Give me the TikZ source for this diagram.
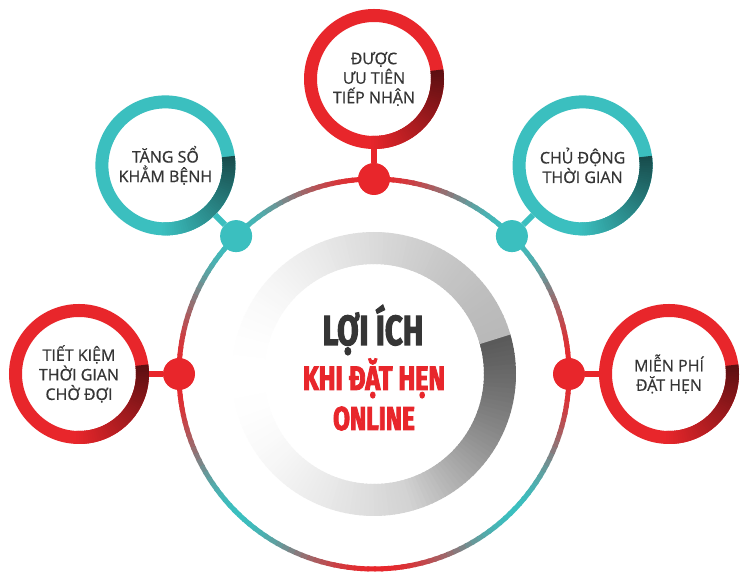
\documentclass[tikz,border=0pt]{standalone}
\usepackage{fontspec}
\setmainfont{Open Sans}
\newfontfamily\satfont{Open Sans}[FakeBold=0.7]
\newfontfamily\headfont{Fira Sans}[FakeStretch=0.74, FakeBold=2.5]
\usetikzlibrary{positioning}

\definecolor{ringred}{HTML}{E8262B}
\definecolor{ringteal}{HTML}{3BBFBF}
\definecolor{textgray}{HTML}{353535}

% shaded fold on the lower right of a satellite ring
\newcommand{\foldring}[2]{%
	\foreach \a in {0,2,...,98} {
		\pgfmathsetmacro\s{8-\a}
		\pgfmathsetmacro\e{\s-2.6}
		\pgfmathsetmacro\k{40+0.6*\a}
		\draw[line width=13, #2!\k!black] ([shift={(\s:63.5)}]#1.center) arc[start angle=\s, end angle=\e, radius=63.5];
	}
}

\begin{document}
\begin{tikzpicture}[x=1pt, y=1pt,
		sat/.style={circle, draw=#1, line width=13, fill=white, minimum size=127, inner sep=0, align=center, text=textgray, font=\satfont\fontsize{16}{19.5}\selectfont},
		dot/.style={circle, fill=#1, minimum size=32, inner sep=0},
		stem/.style={line width=6, #1},
		headtext/.style={anchor=base, inner sep=0, font=\headfont\bfseries\fontsize{#1}{#1}\selectfont}]
		\useasboundingbox (0,0) rectangle (747,578);
		\fill[white] (0,0) rectangle (747,578);
		\coordinate (C) at (374,204);
		
		% Draw outer ring
		\foreach \a in {0,2,...,358} {
			\pgfmathsetmacro\m{50+50*cos(4*\a)}
			\draw[line width=5, ringred!\m!ringteal] ([shift={(\a:195)}]C) arc[start angle=\a, end angle=\a+2.6, radius=195];
		}
		
		% Draw grey band
		\foreach \a in {-180,-178,...,178} {
			\pgfmathsetmacro\k{14*(1+cos(\a)) + and(\a>-75,\a<16)*38*(\a+75)/91}
			\draw[line width=32, black!\k] ([shift={(\a:126)}]C) arc[start angle=\a, end angle=\a+2.6, radius=126];
		}
		
		% Draw centre text
		\node[headtext=42, textgray] (title) at (373,233) {LỢI ÍCH};
		\node[headtext=34, ringred] (subtitle) at (374,188) {KHI ĐẶT HẸN};
		\node[headtext=33, ringred] (online) at (374,148) {ONLINE};
		
		% Draw dots on the ring
		\node[dot=ringred] (dtop) at ([shift={(90:195)}]C) {};
		\node[dot=ringteal] (dtopleft) at ([shift={(135:195)}]C) {};
		\node[dot=ringteal] (dtopright) at ([shift={(45:195)}]C) {};
		\node[dot=ringred] (dleft) at ([shift={(180:195)}]C) {};
		\node[dot=ringred] (dright) at ([shift={(0:195)}]C) {};
		
		% Draw satellites
		\node[sat=ringred] (top) at ([shift={(90:295)}]C) {ĐƯỢC\\ƯU TIÊN\\TIẾP NHẬN};
		\node[sat=ringteal] (topleft) at ([shift={(135:295)}]C) {TĂNG SỔ\\KHẲM BỆNH};
		\node[sat=ringteal] (topright) at ([shift={(45:295)}]C) {CHỦ ĐỘNG\\THỜI GIAN};
		\node[sat=ringred] (left) at ([shift={(180:295)}]C) {TIẾT KIỆM\\THỜI GIAN\\CHỜ ĐỢI};
		\node[sat=ringred] (right) at ([shift={(0:295)}]C) {MIỄN PHÍ\\ĐẶT HẸN};
		
		% Draw folds
		\foldring{top}{ringred}
		\foldring{topleft}{ringteal}
		\foldring{topright}{ringteal}
		\foldring{left}{ringred}
		\foldring{right}{ringred}
		
		% Draw stems
		\draw[stem=ringred] (dtop) -- (top);
		\draw[stem=ringteal] (dtopleft) -- (topleft);
		\draw[stem=ringteal] (dtopright) -- (topright);
		\draw[stem=ringred] (dleft) -- (left);
		\draw[stem=ringred] (dright) -- (right);
\end{tikzpicture}
\end{document}
